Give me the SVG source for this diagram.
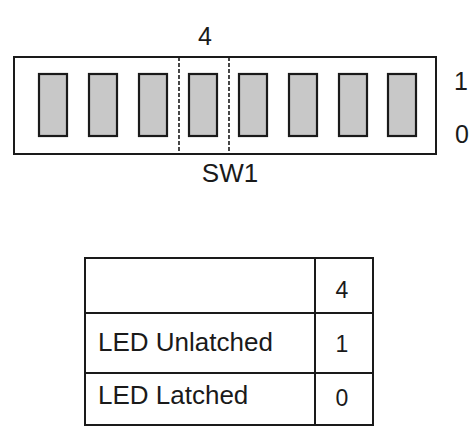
<svg xmlns="http://www.w3.org/2000/svg" width="472" height="440" viewBox="0 0 472 440">
<style>
text{font-family:"Liberation Sans",Arial,sans-serif;font-size:25px;fill:#1a1a1a}
.lbl{font-size:26px}
.dg{font-size:23px}
.box{fill:#fff;stroke:#1a1a1a;stroke-width:2}
.sw{fill:#c8c8c8;stroke:#1a1a1a;stroke-width:2.2}
.dash{stroke:#1a1a1a;stroke-width:1.6;stroke-dasharray:4 2;fill:none}
.ln{stroke:#1a1a1a;stroke-width:2;fill:none}
</style>
<rect width="472" height="440" fill="#fff"/>
<g id="sw1">
<rect class="box" x="14" y="57" width="422" height="97"/>
<rect class="sw" x="39" y="74" width="28" height="62"/>
<rect class="sw" x="89" y="74" width="28" height="62"/>
<rect class="sw" x="139" y="74" width="28" height="62"/>
<rect class="sw" x="189" y="74" width="28" height="62"/>
<rect class="sw" x="239" y="74" width="28" height="62"/>
<rect class="sw" x="289" y="74" width="28" height="62"/>
<rect class="sw" x="339" y="74" width="28" height="62"/>
<rect class="sw" x="388" y="74" width="28" height="62"/>
<line class="dash" x1="179" y1="57" x2="179" y2="154"/>
<line class="dash" x1="229" y1="57" x2="229" y2="154"/>
<text x="205" y="45" text-anchor="middle">4</text>
<text x="461" y="90" text-anchor="middle">1</text>
<text x="462" y="143" text-anchor="middle">0</text>
<text class="lbl" x="230" y="182" text-anchor="middle">SW1</text>
</g>
<g id="table">
<rect class="box" x="85" y="258" width="288" height="167"/>
<line class="ln" x1="315" y1="258" x2="315" y2="425"/>
<line class="ln" x1="85" y1="313" x2="373" y2="313"/>
<line class="ln" x1="85" y1="373" x2="373" y2="373"/>
<text class="dg" x="342" y="298" text-anchor="middle">4</text>
<text class="lbl" x="98" y="351">LED Unlatched</text>
<text class="dg" x="342" y="352" text-anchor="middle">1</text>
<text class="lbl" x="98" y="404">LED Latched</text>
<text class="dg" x="342" y="406" text-anchor="middle">0</text>
</g>
</svg>
